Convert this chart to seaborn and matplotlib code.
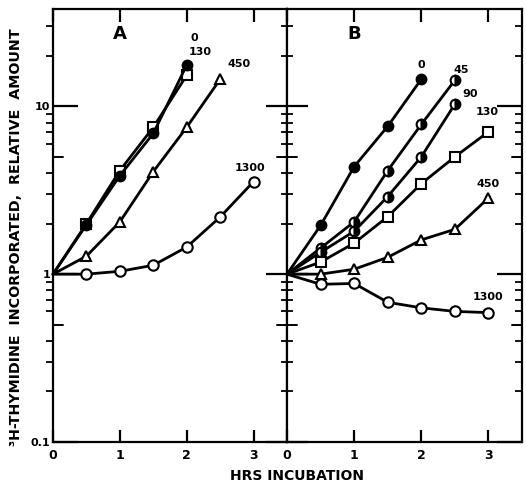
import numpy as np
import pandas as pd
import seaborn as sns
import matplotlib
matplotlib.use("Agg")
import matplotlib.pyplot as plt
from matplotlib.ticker import FixedLocator, NullFormatter, FixedFormatter
from matplotlib.transforms import blended_transform_factory

# ---------------- data ----------------
hours = [0, 0.5, 1, 1.5, 2, 2.5, 3]

a_0 = [1, 1.97, 3.86, 6.9, 17.6]
a_130 = [1, 2.0, 4.14, 7.5, 15.3]
a_450 = [1, 1.28, 2.05, 4.08, 7.5, 14.5]
a_1300 = [1, 1.0, 1.04, 1.13, 1.45, 2.19, 3.56]

b_0 = [1, 1.95, 4.37, 7.6, 14.5]
b_45 = [1, 1.43, 2.05, 4.14, 7.8, 14.3]
b_90 = [1, 1.35, 1.80, 2.9, 5.0, 10.3]
b_130 = [1, 1.18, 1.53, 2.2, 3.46, 5.0, 7.05]
b_450 = [1, 1.0, 1.07, 1.26, 1.6, 1.85, 2.84]
b_1300 = [1, 0.87, 0.88, 0.68, 0.63, 0.60, 0.59]

a_labels = ["0", "130", "450", "1300"]
a_label_x = [2.12, 2.2, 2.78, 2.95]
a_label_y = [25.5, 21.0, 17.8, 4.3]
b_labels = ["0", "45", "90", "130", "450", "1300"]
b_label_x = [2.0, 2.6, 2.72, 2.98, 3.0, 3.0]
b_label_y = [17.6, 16.4, 11.8, 9.3, 3.45, 0.73]

panel_names = ["A", "B"]
x_ticks = [0, 1, 2, 3]
y_major = [0.1, 1, 10]
y_major_labels = ["0.1", "1", "10"]
y_minor = [m * d for d in (0.1, 1, 10) for m in (2, 3, 4, 6, 7, 8, 9)]
y_mid = [0.5, 5]

# ---------------- style ----------------
sns.set_style("ticks")
plt.rcParams["font.family"] = ["DejaVu Sans"]
plt.rcParams["font.weight"] = "bold"
plt.rcParams["axes.linewidth"] = 1.6
for k in ("text.color", "axes.edgecolor", "axes.labelcolor", "xtick.color", "ytick.color"):
    plt.rcParams[k] = "black"

W, H = 526, 484
fig = plt.figure(figsize=(W / 100, H / 100), dpi=100)
left, mid, right, top, bot = 53, 287, 522, 9, 442
axA = fig.add_axes([left / W, 1 - bot / H, (mid - left) / W, (bot - top) / H])
axB = fig.add_axes([mid / W, 1 - bot / H, (right - mid) / W, (bot - top) / H])

YLIM = (0.1, 38)
XLIM = (0, 3.5)

LW = 2.0


def series(ax, y, marker, face="white", fill="full", ms=7.0, line=True):
    n = len(y)
    sns.lineplot(
        x=hours[:n], y=y, ax=ax, color="black",
        linewidth=LW if line else 0,
        marker=marker, markersize=ms,
        markerfacecolor=face, markerfacecoloralt="white",
        fillstyle=fill,
        markeredgecolor="black", markeredgewidth=1.5,
        markevery=list(range(1, n)),
        estimator=None, sort=False, legend=False, clip_on=False,
    )


# Panel A
series(axA, a_130, "s", ms=6.5)
series(axA, a_0, "o", face="black")
series(axA, a_450, "^", ms=6.5)
series(axA, a_1300, "o", ms=7.5)

# Panel B
series(axB, b_0, "o", face="black")
series(axB, b_45, "o", face="black", fill="right")
series(axB, b_90, "o", face="black", fill="right")
series(axB, b_130, "s", ms=6.5)
series(axB, b_450, "^", ms=6.5)
series(axB, b_1300, "o", ms=7.5)

for t, x, y in zip(a_labels, a_label_x, a_label_y):
    axA.text(x, y, t, fontsize=8, fontweight="bold", ha="center", va="center")
for t, x, y in zip(b_labels, b_label_x, b_label_y):
    axB.text(x, y, t, fontsize=8, fontweight="bold", ha="center", va="center")

for ax, name in zip((axA, axB), panel_names):
    ax.text(1.0, 27, name, fontsize=13, fontweight="bold", ha="center", va="center")
    ax.set_yscale("log")
    ax.set_ylim(*YLIM)
    ax.set_xlim(*XLIM)
    ax.xaxis.set_major_locator(FixedLocator(x_ticks))
    ax.set_xticklabels([str(v) for v in x_ticks], fontsize=9, fontweight="bold")
    ax.tick_params(axis="x", which="both", direction="in", top=True, bottom=True,
                   length=9, width=1.6, pad=5)
    ax.yaxis.set_major_locator(FixedLocator(y_major))
    ax.yaxis.set_minor_locator(FixedLocator(y_minor))
    ax.yaxis.set_minor_formatter(NullFormatter())
    for s in ax.spines.values():
        s.set_visible(True)
        s.set_linewidth(1.6)
    ax.set_xlabel("")
    ax.set_ylabel("")

# Panel A y ticks
axA.yaxis.set_major_formatter(FixedFormatter(y_major_labels))
axA.tick_params(axis="y", which="major", direction="in", length=18, width=1.6,
                left=True, right=False, labelsize=8, pad=2)
axA.tick_params(axis="y", which="minor", direction="out", length=5, width=1.3,
                left=True, right=False)
for lab in axA.get_yticklabels():
    lab.set_fontweight("bold")

# Panel B: shared middle axis (in/out) and right axis (in)
axB.yaxis.set_major_formatter(NullFormatter())
axB.tick_params(axis="y", which="major", direction="inout", length=30, width=1.6,
                left=True, right=False, labelleft=False)
axB.tick_params(axis="y", which="minor", direction="inout", length=9, width=1.3,
                left=True, right=False)
axB2 = axB.twinx()
axB2.set_yscale("log")
axB2.set_ylim(*YLIM)
axB2.yaxis.set_major_locator(FixedLocator(y_major))
axB2.yaxis.set_minor_locator(FixedLocator(y_minor))
axB2.yaxis.set_major_formatter(NullFormatter())
axB2.yaxis.set_minor_formatter(NullFormatter())
axB2.tick_params(axis="y", which="major", direction="in", length=18, width=1.6)
axB2.tick_params(axis="y", which="minor", direction="in", length=5, width=1.3)
for s in axB2.spines.values():
    s.set_visible(False)

# medium ticks at 0.5 and 5
trA = blended_transform_factory(axA.transAxes, axA.transData)
trB = blended_transform_factory(axB.transAxes, axB.transData)
fa = 10 / (mid - left)
fb = 10 / (right - mid)
for v in y_mid:
    axA.plot([0, fa], [v, v], color="black", lw=1.4, transform=trA, clip_on=False)
    axB.plot([-fb, fb], [v, v], color="black", lw=1.4, transform=trB, clip_on=False)
    axB.plot([1 - fb, 1], [v, v], color="black", lw=1.4, transform=trB, clip_on=False)

fig.text(297 / W, 1 - 476 / H, "HRS INCUBATION", fontsize=10, fontweight="bold",
         ha="center", va="center")
fig.text(16 / W, 1 - 237 / H, "³H-THYMIDINE  INCORPORATED,  RELATIVE  AMOUNT",
         fontsize=10.3, fontweight="bold", rotation=90, ha="center", va="center")

fig.savefig("out.png", dpi=100)
